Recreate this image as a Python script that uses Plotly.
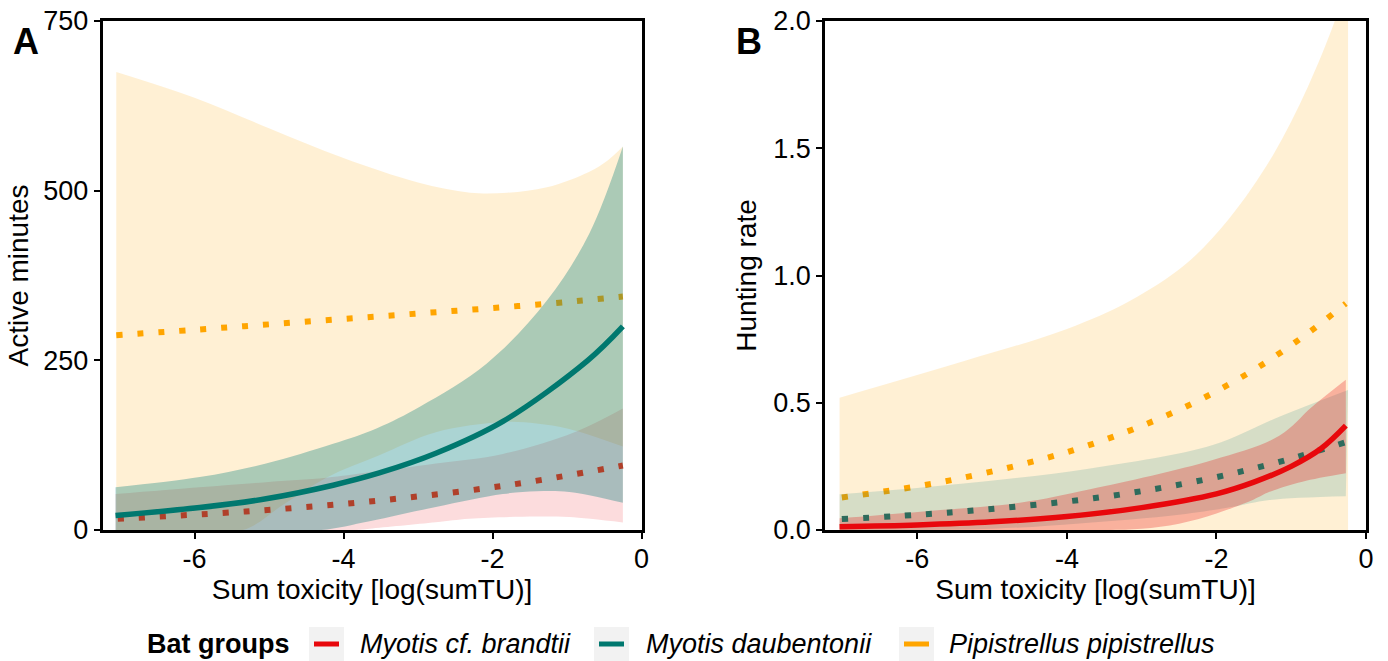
import plotly.graph_objects as go

W, H = 1388, 661

# ---------------- Panel A : Active minutes ----------------
a_pip_fit_x = [-7.05, -6, -5, -4, -3, -2, -1, -0.25]
a_pip_fit_y = [287, 295, 303, 311, 319, 327, 336, 344]
a_pip_hi_x = [-7.05, -6, -5, -4, -3, -2.3, -1.8, -1.27, -0.7, -0.45, -0.25]
a_pip_hi_y = [675, 637, 592, 548, 512, 497, 497, 505, 528, 545, 565]
a_pip_lo_x = [-7.05, -6.2, -5.35, -4.8, -4.23, -3.52, -2.76, -1.86, -1.41, -0.97, -0.25]
a_pip_lo_y = [0, 0, 0, 38, 77, 110, 144, 159, 157, 149, 123]

a_dau_fit_x = [-7.06, -5.93, -5.04, -4.14, -3.52, -2.76, -1.86, -0.72, -0.25]
a_dau_fit_y = [21.4, 33, 46, 66, 84, 113, 160, 250, 300]
a_dau_hi_x = [-7.06, -5.93, -5.04, -4.14, -3.55, -2.97, -2.08, -1.27, -0.7, -0.25]
a_dau_hi_y = [63, 78, 98, 127, 150, 182, 245, 338, 437, 565]
a_dau_lo_x = [-7.06, -5.0, -4.3, -3.65, -2.76, -1.86, -1.41, -0.97, -0.25]
a_dau_lo_y = [0, 0, 0, 13, 34, 53, 57, 56, 40]

a_bra_fit_x = [-7.03, -5.31, -3.56, -1.82, -0.25]
a_bra_fit_y = [16.5, 27.3, 43, 65.6, 95]
a_bra_hi_x = [-7.06, -5.93, -5.04, -4.23, -3.65, -2.76, -1.86, -0.9, -0.25]
a_bra_hi_y = [53, 63, 70.5, 77, 85, 98, 112, 144, 179]
a_bra_lo_x = [-7.06, -4.6, -3.85, -3.65, -2.76, -2.31, -1.41, -0.97, -0.25]
a_bra_lo_y = [0, 0, 0, 2, 11.5, 16.5, 20, 19, 11]

# ---------------- Panel B : Hunting rate ----------------
b_pip_fit_x = [-7.01, -5.58, -3.91, -2.56, -1.54, -0.83, -0.27]
b_pip_fit_y = [0.128, 0.194, 0.314, 0.464, 0.622, 0.762, 0.89]
b_pip_hi_x = [-7.04, -5.34, -4, -3.16, -2.43, -1.84, -1.25, -0.78, -0.43, -0.24]
b_pip_hi_y = [0.52, 0.667, 0.79, 0.90, 1.04, 1.22, 1.47, 1.74, 1.99, 2.16]
b_pip_lo_x = [-7.04, -0.24]
b_pip_lo_y = [0, 0]

b_dau_fit_x = [-7.01, -5.56, -3.56, -2.14, -1.03, -0.27]
b_dau_fit_y = [0.043, 0.069, 0.128, 0.199, 0.278, 0.345]
b_dau_hi_x = [-7.04, -5.38, -3.69, -2.05, -1.16, -0.24]
b_dau_hi_y = [0.14, 0.183, 0.242, 0.334, 0.445, 0.55]
b_dau_lo_x = [-7.04, -5.0, -3.83, -2.5, -1.8, -1.29, -0.27]
b_dau_lo_y = [0, 0.005, 0.026, 0.06, 0.09, 0.118, 0.133]

b_bra_fit_x = [-7.04, -6, -5, -4, -3, -2, -1.5, -1, -0.6, -0.27]
b_bra_fit_y = [0.013, 0.02, 0.032, 0.053, 0.088, 0.142, 0.188, 0.25, 0.32, 0.41]
b_bra_hi_x = [-7.04, -5.96, -4.63, -3.69, -2.05, -1.16, -0.72, -0.27]
b_bra_hi_y = [0.046, 0.072, 0.107, 0.16, 0.275, 0.37, 0.484, 0.59]
b_bra_lo_x = [-7.04, -3.5, -3.0, -2.5, -2.0, -1.5, -1.29, -0.85, -0.27]
b_bra_lo_y = [0, 0, 0.005, 0.025, 0.065, 0.12, 0.15, 0.19, 0.223]

# ---------------- Axes / labels ----------------
x_tick_vals = [-6, -4, -2, 0]
x_tick_text = ["-6", "-4", "-2", "0"]
a_tick_vals = [0, 250, 500, 750]
a_tick_text = ["0", "250", "500", "750"]
b_tick_vals = [0, 0.5, 1.0, 1.5, 2.0]
b_tick_text = ["0.0", "0.5", "1.0", "1.5", "2.0"]

groups = ["Myotis cf. brandtii", "Myotis daubentonii", "Pipistrellus pipistrellus"]
group_colors = ["#E8080C", "#00786F", "#FFA500"]

FONT = "Liberation Sans, Arial, Helvetica, sans-serif"
fig = go.Figure()


def ribbon(xl, yl, xh, yh, fill, xa, ya):
    fig.add_trace(go.Scatter(x=xl, y=yl, mode="lines", xaxis=xa, yaxis=ya,
                             line=dict(width=0, shape="spline", smoothing=1.0),
                             showlegend=False, hoverinfo="skip"))
    fig.add_trace(go.Scatter(x=xh, y=yh, mode="lines", xaxis=xa, yaxis=ya,
                             fill="tonexty", fillcolor=fill,
                             line=dict(width=0, shape="spline", smoothing=1.0),
                             showlegend=False, hoverinfo="skip"))


def curve(x, y, color, dotted, xa, ya):
    fig.add_trace(go.Scatter(x=x, y=y, mode="lines", xaxis=xa, yaxis=ya,
                             line=dict(color=color, width=6 if dotted else 5.5,
                                       dash="6px,15px" if dotted else "solid",
                                       shape="spline", smoothing=1.0),
                             showlegend=False, hoverinfo="skip"))


# Panel A
ribbon(a_pip_lo_x, a_pip_lo_y, a_pip_hi_x, a_pip_hi_y, "rgba(255,165,0,0.17)", "x", "y")
curve(a_pip_fit_x, a_pip_fit_y, "#FFA500", True, "x", "y")
ribbon(a_bra_lo_x, a_bra_lo_y, a_bra_hi_x, a_bra_hi_y, "rgba(232,8,12,0.14)", "x", "y")
ribbon(a_dau_lo_x, a_dau_lo_y, a_dau_hi_x, a_dau_hi_y, "rgba(0,125,122,0.33)", "x", "y")
curve(a_bra_fit_x, a_bra_fit_y, "#B0402A", True, "x", "y")
curve(a_dau_fit_x, a_dau_fit_y, "#00786F", False, "x", "y")

# Panel B
ribbon(b_pip_lo_x, b_pip_lo_y, b_pip_hi_x, b_pip_hi_y, "rgba(255,165,0,0.17)", "x2", "y2")
curve(b_pip_fit_x, b_pip_fit_y, "#FFA500", True, "x2", "y2")
ribbon(b_dau_lo_x, b_dau_lo_y, b_dau_hi_x, b_dau_hi_y, "rgba(0,125,122,0.16)", "x2", "y2")
ribbon(b_bra_lo_x, b_bra_lo_y, b_bra_hi_x, b_bra_hi_y, "rgba(232,8,12,0.27)", "x2", "y2")
curve(b_dau_fit_x, b_dau_fit_y, "#2E6B5C", True, "x2", "y2")
curve(b_bra_fit_x, b_bra_fit_y, "#E8080C", False, "x2", "y2")

# ---------------- Layout ----------------
top_px, bot_px = 21, 530
ydom = [1 - bot_px / H, 1 - top_px / H]
axA = [102.5 / W, 641.5 / W]
axB = [825 / W, 1366 / W]

tickfont = dict(family=FONT, size=27, color="black")
titlefont = dict(family=FONT, size=28, color="black")


def xaxis(dom, anchor):
    return dict(domain=dom, anchor=anchor, range=[-7.235, 0], tickvals=x_tick_vals,
                ticktext=x_tick_text, ticks="outside", ticklen=6, tickwidth=2,
                tickcolor="black", showline=True, linecolor="black", linewidth=2.5,
                mirror=True, showgrid=False, zeroline=False, tickfont=tickfont,
                ticklabelstandoff=-3,
                title=dict(text="Sum toxicity [log(sumTU)]", font=titlefont, standoff=1),
                automargin=False)


def yaxis(rng, vals, text, title, anchor, standoff):
    return dict(domain=ydom, anchor=anchor, range=rng, tickvals=vals, ticktext=text,
                ticks="outside", ticklen=6, tickwidth=2, tickcolor="black",
                showline=True, linecolor="black", linewidth=2.5, mirror=True,
                showgrid=False, zeroline=False, tickfont=tickfont,
                title=dict(text=title, font=titlefont, standoff=standoff),
                automargin=False)


fig.update_layout(
    width=W, height=H, margin=dict(l=0, r=0, t=0, b=0),
    paper_bgcolor="white", plot_bgcolor="white", showlegend=False,
    font=dict(family=FONT, color="black"),
    xaxis=xaxis(axA, "y"),
    yaxis=yaxis([0, 750], a_tick_vals, a_tick_text, "Active minutes", "x", 7),
    xaxis2=xaxis(axB, "y2"),
    yaxis2=yaxis([0, 2.0], b_tick_vals, b_tick_text, "Hunting rate", "x2", 9),
)

anns = [
    dict(text="<b>A</b>", x=26 / W, y=1 - 41 / H, font=dict(family=FONT, size=36, color="black")),
    dict(text="<b>B</b>", x=749 / W, y=1 - 41 / H, font=dict(family=FONT, size=36, color="black")),
    dict(text="<b>Bat groups</b>", x=292 / W, y=1 - 644 / H, xanchor="right",
         font=dict(family=FONT, size=27, color="black")),
]
for a in anns:
    a.setdefault("xanchor", "center")
    a.update(xref="paper", yref="paper", yanchor="middle", showarrow=False)

shapes = []
box_left = [309, 594, 899]
text_left = [358, 644, 947]
for i, g in enumerate(groups):
    bx = box_left[i]
    shapes.append(dict(type="rect", xref="paper", yref="paper", x0=bx / W, x1=(bx + 35) / W,
                       y0=1 - 661 / H, y1=1 - 627 / H, fillcolor="#F2F2F2", line=dict(width=0),
                       layer="below"))
    shapes.append(dict(type="line", xref="paper", yref="paper", x0=(bx + 5) / W, x1=(bx + 30) / W,
                       y0=1 - 644 / H, y1=1 - 644 / H, line=dict(color=group_colors[i], width=5)))
    anns.append(dict(text="<i>" + g + "</i>", x=text_left[i] / W, y=1 - 644 / H, xref="paper",
                     yref="paper", xanchor="left", yanchor="middle", showarrow=False,
                     font=dict(family=FONT, size=27, color="black")))

fig.update_layout(annotations=anns, shapes=shapes)
fig.write_html("out.html")
